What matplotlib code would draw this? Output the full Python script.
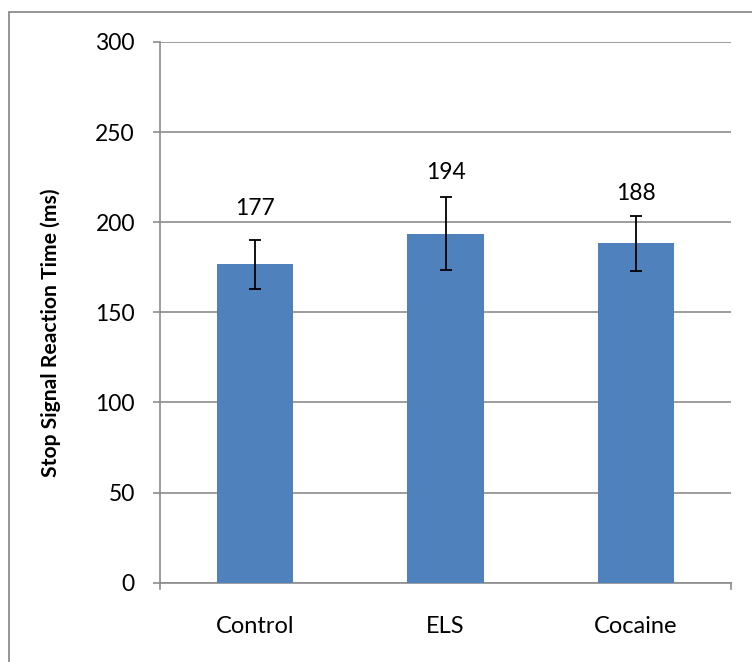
import matplotlib
matplotlib.use("Agg")
import matplotlib.pyplot as plt
from matplotlib.patches import Rectangle

plt.rcParams['font.family'] = ['Lato', 'DejaVu Sans']

categories = ["Control", "ELS", "Cocaine"]
values = [176.6, 193.7, 188.3]
errors = [13.5, 20.2, 15.2]
value_labels = ["177", "194", "188"]
yticks = [0, 50, 100, 150, 200, 250, 300]

# label offsets above error-bar tops (points) - layout only
label_offsets = [22.7, 18, 16.5]

fig = plt.figure(figsize=(7.52, 6.62), dpi=100)
fig.patch.set_facecolor("white")

# outer chart border (only top/left visible in reference)
fig.patches.append(Rectangle((9 / 752, -0.1), 1.2, 1 - 12 / 662 + 0.1,
                             transform=fig.transFigure, fill=False,
                             edgecolor="#8c8c8c", linewidth=1.3))

ax = fig.add_axes([160 / 752, 1 - 582.7 / 662, (731 - 160) / 752, (582.7 - 42) / 662])
x = list(range(len(categories)))
ax.bar(x, values, width=0.4, color="#4F81BD", zorder=3)
ax.errorbar(x, values, yerr=errors, fmt="none", ecolor="black", elinewidth=1.3,
            capsize=4.5, capthick=1.3, zorder=4)

for xi, v, e, lab, off in zip(x, values, errors, value_labels, label_offsets):
    ax.annotate(lab, (xi, v + e), xytext=(0, off), textcoords="offset points",
                ha="center", va="center", fontsize=16.5)

ax.set_xlim(-0.5, 2.5)
ax.set_ylim(0, 300)
ax.set_yticks(yticks)
ax.set_yticklabels([str(t) for t in yticks], fontsize=16.5)
ax.set_xticks(x)
ax.set_xticklabels(categories, fontsize=17)
ax.tick_params(axis="x", length=0, pad=24)
ax.tick_params(axis="y", length=5, width=1.2, color="#8c8c8c", pad=13)
ax.yaxis.grid(True, color="#8c8c8c", linewidth=1.2, zorder=0)
ax.set_axisbelow(True)
for s in ["top", "right"]:
    ax.spines[s].set_visible(False)
for s in ["left", "bottom"]:
    ax.spines[s].set_color("#8c8c8c")
    ax.spines[s].set_linewidth(1.2)
# small end ticks on the category axis
ax.plot([-0.5, -0.5], [0, -0.012], transform=ax.get_xaxis_transform(), color="#8c8c8c",
        linewidth=1.2, clip_on=False)
ax.plot([2.5, 2.5], [0, -0.012], transform=ax.get_xaxis_transform(), color="#8c8c8c",
        linewidth=1.2, clip_on=False)

ax.set_ylabel("Stop Signal Reaction Time (ms)", fontsize=15.2, fontweight="bold")
ax.yaxis.set_label_coords((61 - 160) / 571, (582.7 - 333) / 540.7)

fig.savefig("out.png", dpi=100)
